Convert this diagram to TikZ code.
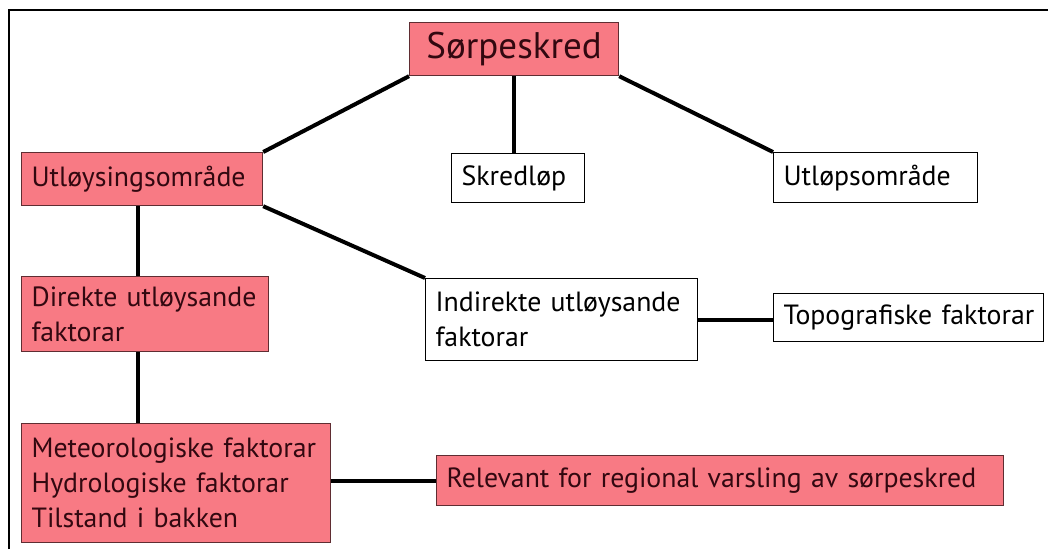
\documentclass[tikz,border=0pt]{standalone}
\usepackage{fontspec}
\setmainfont{PT Sans}
\definecolor{boxpink}{RGB}{248,122,132}
\definecolor{pinkedge}{RGB}{95,45,50}
\definecolor{pinktext}{RGB}{50,8,16}

\begin{document}
\begin{tikzpicture}[x=1pt,y=-1pt,
  box/.style={draw=black, line width=1.2pt, anchor=north west,
    inner xsep=10pt, inner ysep=0pt, align=left,
    font=\fontsize{27.8}{35}\selectfont, text=black},
  pinkbox/.style={box, fill=boxpink, draw=pinkedge, text=pinktext},
  link/.style={line width=4pt, black}]
\useasboundingbox (0,0) rectangle (1048,549);
\fill[white] (0,0) rectangle (1048,549);

% outer frame
\draw[line width=2pt] (9,549) -- (9,10) -- (1048,10);

% boxes
\node[pinkbox, align=center, minimum width=209pt, minimum height=53pt,
  font=\fontsize{37}{42}\selectfont] (sor) at (409,22) {Sørpeskred};
\node[pinkbox, text width=221pt, minimum height=53pt] (utl) at (21,152) {Utløysingsområde};
\node[box, text width=113pt, minimum height=49pt] (skr) at (451,153) {Skredløp};
\node[box, text width=184pt, minimum height=50pt] (utp) at (773,152) {\mbox{Utløpsområde}};
\node[pinkbox, text width=227pt, minimum height=75pt] (dir) at (21,276)
  {\mbox{Direkte utløysande}\\faktorar};
\node[box, text width=252pt, minimum height=82pt] (ind) at (425,278)
  {\mbox{Indirekte utløysande}\\faktorar};
\node[box, text width=250pt, minimum height=48pt] (top) at (773,293)
  {\mbox{Topografiske faktorar}};
\node[pinkbox, text width=289pt, minimum height=119pt] (met) at (21,423)
  {\mbox{Meteorologiske faktorar}\\\mbox{Hydrologiske faktorar}\\Tilstand i bakken};
\node[pinkbox, text width=547pt, minimum height=50pt] (rel) at (436,455)
  {\mbox{Relevant for regional varsling av sørpeskred}};

% connectors
\draw[link] (sor.south west) -- (utl.north east);
\draw[link] (sor.south) -- (sor.south |- skr.north);
\draw[link] (sor.south east) -- (utp.north west);
\draw[link] (utl.south east) -- (ind.north west);
\coordinate (trunk) at ([xshift=117pt]utl.south west);
\draw[link] (trunk) -- (trunk |- dir.north);
\draw[link] (trunk |- dir.south) -- (trunk |- met.north);
\draw[link] (ind.east) -- (ind.east -| top.west);
\draw[link] (rel.west -| met.east) -- (rel.west);
\end{tikzpicture}
\end{document}
